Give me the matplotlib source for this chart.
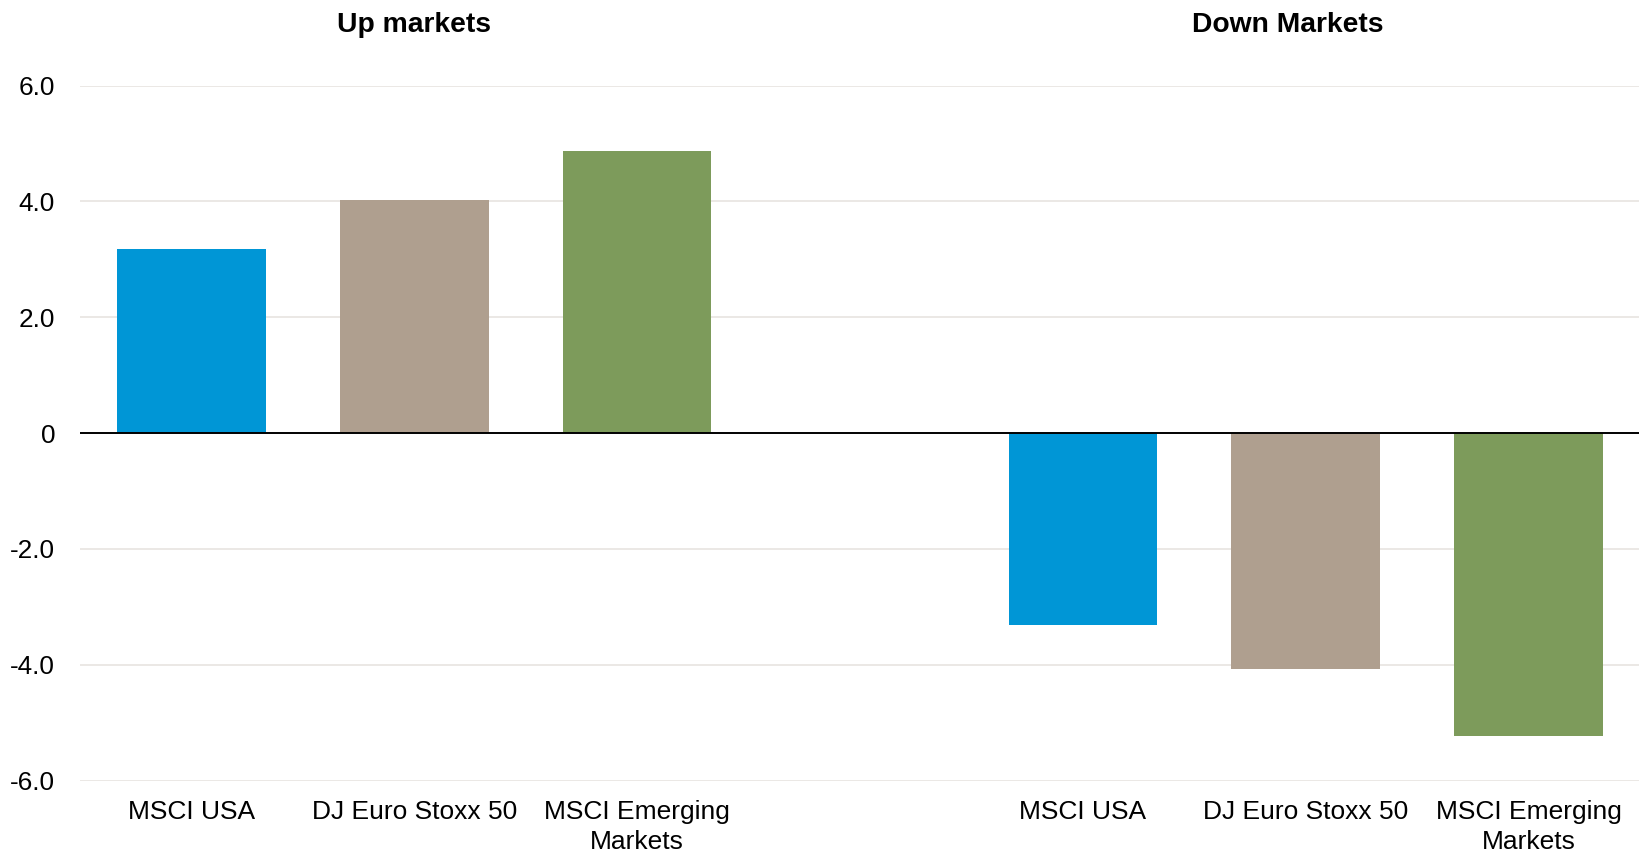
import matplotlib.pyplot as plt

plt.rcParams['font.family'] = ['Liberation Sans', 'DejaVu Sans']

groups = ["Up markets", "Down Markets"]
categories = ["MSCI USA", "DJ Euro Stoxx 50", "MSCI Emerging\nMarkets"]
up_values = [3.17, 4.02, 4.87]
down_values = [-3.32, -4.08, -5.23]
colors = ["#0096D6", "#AF9F8F", "#7D9B5B"]
yticks = [-6, -4, -2, 0, 2, 4, 6]
ytick_labels = ["-6.0", "-4.0", "-2.0", "0", "2.0", "4.0", "6.0"]

fig = plt.figure(figsize=(16.4, 8.55), dpi=100)
ax = fig.add_axes([0.0488, 0.087, 0.9512, 0.813])

# slots 0-2 up, slot 3 empty, slots 4-6 down
x_up = [0, 1, 2]
x_down = [4, 5, 6]
ax.bar(x_up, up_values, width=0.667, color=colors, zorder=2)
ax.bar(x_down, down_values, width=0.667, color=colors, zorder=2)

ax.set_xlim(-0.5, 6.5)
ax.set_ylim(-6, 6)
ax.set_yticks(yticks)
ax.set_yticklabels(ytick_labels, fontsize=18.8)
ax.set_xticks(x_up + x_down)
ax.set_xticklabels(categories + categories, fontsize=19, linespacing=1.3)
ax.tick_params(axis='y', length=0, pad=18)
ax.tick_params(axis='x', length=0, pad=14)

ax.grid(axis='y', color='#E8E4E0', linewidth=1.2, zorder=0)
ax.axhline(0, color='black', linewidth=1.4, zorder=3)
for s in ax.spines.values():
    s.set_visible(False)

title_y = 1.0 + (85.7 - 25) / 695
ax.text(1, title_y, groups[0], transform=ax.get_xaxis_transform(), ha='center', va='center',
        fontsize=20.3, fontweight='bold')
ax.text(4.92, title_y, groups[1], transform=ax.get_xaxis_transform(), ha='center', va='center',
        fontsize=20.3, fontweight='bold')

fig.savefig("out.png", dpi=100)
